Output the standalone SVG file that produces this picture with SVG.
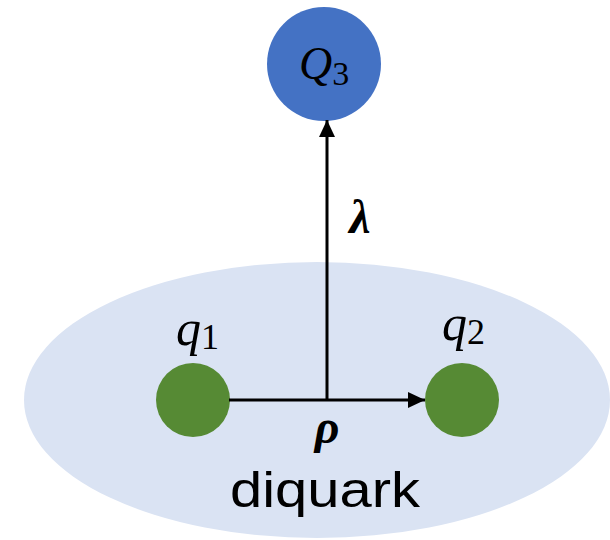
<svg xmlns="http://www.w3.org/2000/svg" width="610" height="540" viewBox="0 0 610 540">
<defs>
<style>
.math{font-family:"Liberation Serif","DejaVu Serif",serif;font-style:italic;fill:#000}
.bold{font-weight:bold}
.conn{stroke:#000;stroke-width:3;fill:none}
</style>
<marker id="ah" markerWidth="18" markerHeight="16" refX="17" refY="8" orient="auto" markerUnits="userSpaceOnUse">
<path d="M0,0 L17,8 L0,16 Z" fill="#000"/>
</marker>
</defs>
<rect width="610" height="540" fill="#fff"/>
<g id="diquark">
<ellipse cx="317" cy="400" rx="293" ry="138" fill="#DAE3F3"/>
<text x="325" y="507" font-family="Liberation Sans, Arial, sans-serif" font-size="50" text-anchor="middle" textLength="190" lengthAdjust="spacingAndGlyphs">diquark</text>
</g>
<g id="Q3">
<circle cx="324" cy="64" r="57" fill="#4472C4"/>
<text class="math" x="299" y="79" font-size="46">Q<tspan font-style="normal" font-size="34" dy="6">3</tspan></text>
</g>
<g id="q1">
<circle cx="193" cy="400" r="37" fill="#568A34"/>
<text class="math" x="176" y="345" font-size="50">q<tspan font-style="normal" font-size="36" dy="4">1</tspan></text>
</g>
<g id="q2">
<circle cx="462" cy="400" r="37" fill="#568A34"/>
<text class="math" x="442" y="340" font-size="50">q<tspan font-style="normal" font-size="36" dy="4">2</tspan></text>
</g>
<g id="connectors">
<line class="conn" x1="229" y1="400" x2="425" y2="400" marker-end="url(#ah)"/>
<line class="conn" x1="327" y1="400" x2="327" y2="120" marker-end="url(#ah)"/>
<text class="math bold" x="327" y="443" font-size="48" text-anchor="middle">ρ</text>
<text class="math bold" x="360" y="233" font-size="48" text-anchor="middle">λ</text>
</g>
</svg>
